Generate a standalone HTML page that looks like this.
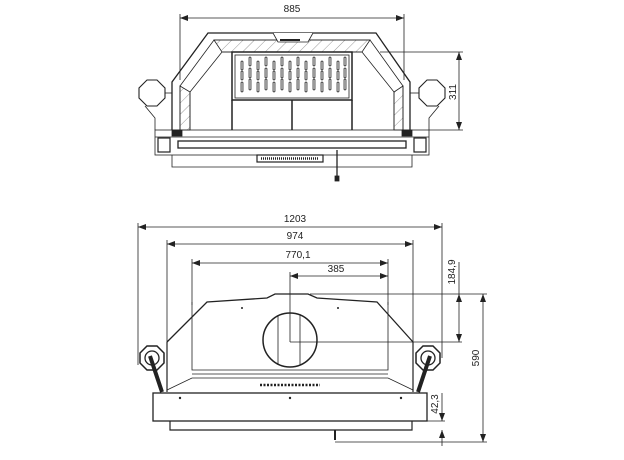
<!DOCTYPE html>
<html><head><style>
html,body{margin:0;padding:0;background:#fff;}
svg{display:block;}
text{font-family:"Liberation Sans",sans-serif;font-size:10px;fill:#222;}
</style></head><body>
<svg width="624" height="460" viewBox="0 0 624 460" xmlns="http://www.w3.org/2000/svg">
<defs>
<marker id="a" markerWidth="8" markerHeight="6" refX="8" refY="3" orient="auto-start-reverse" markerUnits="userSpaceOnUse"><path d="M0,0 L8,3 L0,6 z" fill="#222"/></marker>
<pattern id="h" width="8" height="8" patternUnits="userSpaceOnUse" patternTransform="rotate(45)"><line x1="0" y1="0" x2="0" y2="8" stroke="#555" stroke-width="0.6"/></pattern>
</defs>
<g stroke="#222" stroke-width="0.8" fill="none">
<!-- ===== TOP VIEW ===== -->
<line x1="180" y1="18" x2="404" y2="18" marker-start="url(#a)" marker-end="url(#a)"/>
<line x1="180" y1="14" x2="180" y2="80"/><line x1="404" y1="14" x2="404" y2="80"/>
<path d="M172,130 L172,82 L208,33 L376,33 L410,82 L410,130" stroke-width="1.3"/>
<path d="M180,130 L180,86 L214,40 L370,40 L403,86 L403,130"/>
<path d="M190,130 L190,92 L222,52 L362,52 L394,92 L394,130"/>
<path d="M214,40 L222,52 L362,52 L370,40 Z" fill="url(#h)"/>
<path d="M180,86 L190,92 L190,130 L180,130 Z" fill="url(#h)"/>
<path d="M403,86 L394,92 L394,130 L403,130 Z" fill="url(#h)"/>
<path d="M273,33 L278,42 L308,42 L313,33" fill="#fff"/>
<line x1="280" y1="40" x2="300" y2="40" stroke-width="2"/>
<rect x="232" y="52" width="120" height="48" stroke-width="1.5"/>
<rect x="235" y="55" width="114" height="43"/>
<g stroke-width="2.8" stroke-linecap="round" stroke="#333">
<path d="M242,62v7M242,72v7M242,83v8M250,58v7M250,69v8M250,80v9M258,62v7M258,72v7M258,83v8M266,58v7M266,69v8M266,80v9M274,62v7M274,72v7M274,83v8M282,58v7M282,69v8M282,80v9M290,62v7M290,72v7M290,83v8M298,58v7M298,69v8M298,80v9M306,62v7M306,72v7M306,83v8M314,58v7M314,69v8M314,80v9M322,62v7M322,72v7M322,83v8M330,58v7M330,69v8M330,80v9M338,62v7M338,72v7M338,83v8M345,58v7M345,69v8M345,80v9"/>
</g>
<g stroke="#fff" stroke-width="1" stroke-linecap="round">
<path d="M242,62v7M242,72v7M242,83v8M250,58v7M250,69v8M250,80v9M258,62v7M258,72v7M258,83v8M266,58v7M266,69v8M266,80v9M274,62v7M274,72v7M274,83v8M282,58v7M282,69v8M282,80v9M290,62v7M290,72v7M290,83v8M298,58v7M298,69v8M298,80v9M306,62v7M306,72v7M306,83v8M314,58v7M314,69v8M314,80v9M322,62v7M322,72v7M322,83v8M330,58v7M330,69v8M330,80v9M338,62v7M338,72v7M338,83v8M345,58v7M345,69v8M345,80v9"/>
</g>
<path d="M232,100 V130 M352,100 V130 M292,100 V130" stroke-width="1.5"/>
<polygon points="147,80 157,80 165,88 165,98 157,106 147,106 139,98 139,88" stroke-width="1.1"/>
<polygon points="427,80 437,80 445,88 445,98 437,106 427,106 419,98 419,88" stroke-width="1.1"/>
<path d="M145,106 L155,118 L155,130 M439,106 L429,118 L429,130"/>
<line x1="165" y1="93" x2="172" y2="93"/><line x1="410" y1="93" x2="419" y2="93"/>
<rect x="155" y="130" width="274" height="25"/>
<rect x="172" y="130" width="10" height="6" fill="#222"/><rect x="402" y="130" width="10" height="6" fill="#222"/>
<line x1="155" y1="137" x2="429" y2="137"/>
<rect x="178" y="141" width="228" height="7" stroke-width="1.3"/>
<rect x="158" y="138" width="12" height="14" stroke-width="1.2"/><rect x="414" y="138" width="12" height="14" stroke-width="1.2"/>
<path d="M172,155 V167 H412 V155"/>
<rect x="257" y="155" width="66" height="7" stroke-width="1.2"/>
<line x1="261" y1="158.5" x2="319" y2="158.5" stroke-width="2.5" stroke-dasharray="1,1"/>
<line x1="337" y1="150" x2="337" y2="178" stroke-width="1.3"/>
<rect x="335" y="176" width="4" height="5" fill="#222"/>
<line x1="380" y1="52" x2="463" y2="52"/><line x1="429" y1="130" x2="463" y2="130"/>
<line x1="459" y1="52" x2="459" y2="130" marker-start="url(#a)" marker-end="url(#a)"/>

<!-- ===== BOTTOM VIEW ===== -->
<line x1="138" y1="227" x2="442" y2="227" marker-start="url(#a)" marker-end="url(#a)"/>
<line x1="167" y1="244" x2="413" y2="244" marker-start="url(#a)" marker-end="url(#a)"/>
<line x1="192" y1="263" x2="388" y2="263" marker-start="url(#a)" marker-end="url(#a)"/>
<line x1="290" y1="276" x2="388" y2="276" marker-start="url(#a)" marker-end="url(#a)"/>
<line x1="138" y1="223" x2="138" y2="365"/><line x1="442" y1="223" x2="442" y2="358"/>
<line x1="167" y1="240" x2="167" y2="390"/><line x1="413" y1="240" x2="413" y2="390"/>
<line x1="192" y1="259" x2="192" y2="305"/><line x1="388" y1="259" x2="388" y2="305"/>
<line x1="290" y1="272" x2="290" y2="342"/>
<path d="M167,342 L207,302 L267,298 L275,294 L308,294 L317,298 L377,302 L413,342" stroke-width="1.3"/>
<path d="M192,302 V370 H388 V302"/>
<path d="M167,390 L192,378 H388 L413,390"/>
<line x1="192" y1="374" x2="388" y2="374"/>
<line x1="167" y1="342" x2="167" y2="392" stroke-width="1.2"/><line x1="413" y1="342" x2="413" y2="392" stroke-width="1.2"/>
<circle cx="290" cy="340" r="27" stroke-width="1.5"/>
<path d="M278,315 V365 M300,315 V365"/>
<line x1="290" y1="342" x2="462" y2="342"/>
<line x1="310" y1="294" x2="487" y2="294"/>
<line x1="260" y1="385" x2="320" y2="385" stroke-width="2.5" stroke-dasharray="2,1.5"/>
<polygon points="147,346 157,346 164,353 164,363 157,370 147,370 140,363 140,353" stroke-width="1.5"/>
<circle cx="152" cy="358" r="7" stroke-width="1.3"/>
<line x1="150" y1="356" x2="162" y2="392" stroke="#222" stroke-width="4"/>
<polygon points="423,346 433,346 440,353 440,363 433,370 423,370 416,363 416,353" stroke-width="1.5"/>
<circle cx="428" cy="358" r="7" stroke-width="1.3"/>
<line x1="430" y1="356" x2="418" y2="392" stroke="#222" stroke-width="4"/>
<rect x="153" y="393" width="274" height="28" stroke-width="1.3"/>
<path d="M170,421 V430 H412 V421" stroke-width="1.2"/>
<line x1="335" y1="430" x2="335" y2="440" stroke-width="2"/>
<line x1="459" y1="294" x2="459" y2="342" marker-start="url(#a)" marker-end="url(#a)"/>
<line x1="459" y1="262" x2="459" y2="294"/>
<line x1="483" y1="294" x2="483" y2="442" marker-start="url(#a)" marker-end="url(#a)"/>
<line x1="335" y1="442" x2="487" y2="442"/>
<line x1="427" y1="421" x2="445" y2="421"/>
<line x1="442" y1="393" x2="442" y2="421" marker-end="url(#a)"/>
<line x1="442" y1="442" x2="442" y2="446" />
<line x1="442" y1="430" x2="442" y2="442" marker-start="url(#a)"/>
</g>
<g fill="#222">
<circle cx="180" cy="398" r="1.2"/><circle cx="290" cy="398" r="1.2"/><circle cx="401" cy="398" r="1.2"/>
<circle cx="242" cy="308" r="1"/><circle cx="338" cy="308" r="1"/>
</g>
<text x="292" y="12" text-anchor="middle">885</text>
<text transform="translate(456,92) rotate(-90)" text-anchor="middle">311</text>
<text x="295" y="222" text-anchor="middle">1203</text>
<text x="295" y="239" text-anchor="middle">974</text>
<text x="298" y="258" text-anchor="middle">770,1</text>
<text x="336" y="272" text-anchor="middle">385</text>
<text transform="translate(455,272) rotate(-90)" text-anchor="middle">184,9</text>
<text transform="translate(479,358) rotate(-90)" text-anchor="middle">590</text>
<text transform="translate(438,404) rotate(-90)" text-anchor="middle">42,3</text>
</svg>
</body></html>
